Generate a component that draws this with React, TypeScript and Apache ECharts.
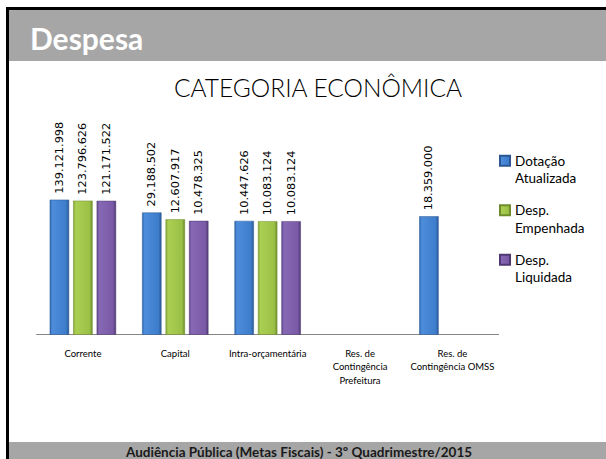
import React, { useEffect, useRef } from 'react';
import * as echarts from 'echarts';

const categories = [
  'Corrente',
  'Capital',
  'Intra-orçamentária',
  'Res. de\nContingência\nPrefeitura',
  'Res. de\nContingência OMSS',
];
const seriesNames = ['Dotação Atualizada', 'Desp. Empenhada', 'Desp. Liquidada'];
const dotacao = [139121998, 29188502, 10447626, null, 18359000];
const empenhada = [123796626, 12607917, 10083124, null, null];
const liquidada = [121171522, 10478325, 10083124, null, null];

const chartTitle = 'CATEGORIA ECONÔMICA';
const slideTitle = 'Despesa';
const footerText = 'Audiência Pública (Metas Fiscais) - 3º Quadrimestre/2015';

const palettes = [
  ['#2f68b0', '#4d8ddb', '#3d7dcb', '#2a5894'],
  ['#83a536', '#aacf52', '#9bc046', '#6e8c2c'],
  ['#634690', '#8768b5', '#7a5aa7', '#4f3873'],
];

function grad(p: string[]) {
  return new echarts.graphic.LinearGradient(0, 0, 1, 0, [
    { offset: 0, color: p[0] },
    { offset: 0.12, color: p[1] },
    { offset: 0.85, color: p[2] },
    { offset: 1, color: p[3] },
  ]);
}

function fmt(v: number) {
  return String(Math.round(v)).replace(/\B(?=(\d{3})+(?!\d))/g, '.');
}

export default function App() {
  const ref = useRef<HTMLDivElement>(null);
  useEffect(() => {
    if (!ref.current) return;
    const chart = echarts.init(ref.current, undefined, { renderer: 'svg' });
    const data = [dotacao, empenhada, liquidada];
    chart.setOption({
      animation: false,
      backgroundColor: '#ffffff',
      title: {
        text: chartTitle,
        left: 313,
        textAlign: 'center',
        top: 70,
        textStyle: { fontFamily: 'Lato', fontSize: 24.5, fontWeight: 300, color: '#000' },
      },
      legend: {
        orient: 'vertical',
        left: 499,
        top: 134.5,
        padding: 0,
        itemGap: -3,
        itemWidth: 10,
        itemHeight: 10,
        icon: 'rect',
        data: seriesNames,
        formatter: (name: string) => {
          const i = name.indexOf(' ');
          return ' \n' + name.slice(0, i) + '\n' + name.slice(i + 1);
        },
        textStyle: { fontFamily: 'Lato', fontSize: 13.5, color: '#000', lineHeight: 17.5 },
      },
      grid: { left: 36.7, right: 107.4, top: 183.5, bottom: 124.5 },
      xAxis: {
        type: 'category',
        data: categories,
        axisLine: { lineStyle: { color: '#868686', width: 1 } },
        axisTick: { show: false },
        axisLabel: {
          interval: 0,
          margin: 12,
          fontFamily: 'Lato',
          fontSize: 9.5,
          lineHeight: 13.5,
          color: '#000',
        },
      },
      yAxis: {
        type: 'log',
        min: 10,
        max: 1e9,
        logBase: 10,
        show: false,
        splitLine: { show: false },
      },
      graphic: [
        { type: 'rect', shape: { x: 6, y: 7, width: 600, height: 3 }, style: { fill: '#000' } },
        { type: 'rect', shape: { x: 6, y: 7, width: 3, height: 452 }, style: { fill: '#000' } },
        { type: 'rect', shape: { x: 9, y: 10, width: 597, height: 51 }, style: { fill: '#a6a6a6' } },
        { type: 'rect', shape: { x: 9, y: 442, width: 597, height: 17 }, style: { fill: '#a6a6a6' } },
        {
          type: 'text',
          x: 30,
          y: 38,
          style: {
            text: slideTitle,
            fill: '#fff',
            fontFamily: 'Lato',
            fontWeight: 'bold',
            fontSize: 30,
            verticalAlign: 'middle',
          },
        },
        {
          type: 'text',
          x: 299,
          y: 451.5,
          style: {
            text: footerText,
            fill: '#1a1a1a',
            fontFamily: 'Lato',
            fontWeight: 'bold',
            fontSize: 13.5,
            align: 'center',
            verticalAlign: 'middle',
          },
        },
      ],
      series: seriesNames.map((name, i) => ({
        name,
        type: 'bar',
        data: data[i],
        barWidth: 19.4,
        barGap: '21%',
        itemStyle: { color: grad(palettes[i]), borderColor: palettes[i][3], borderWidth: 0.5 },
        label: {
          show: true,
          position: 'top',
          rotate: 90,
          align: 'left',
          verticalAlign: 'middle',
          distance: 6,
          fontFamily: 'DejaVu Sans',
          fontSize: 11.3,
          color: '#000',
          formatter: (p: any) => fmt(p.value),
        },
      })),
    });
    return () => chart.dispose();
  }, []);
  return (
    <div
      ref={ref}
      style={{ position: 'fixed', left: 0, top: 0, width: 606, height: 459 }}
    />
  );
}
